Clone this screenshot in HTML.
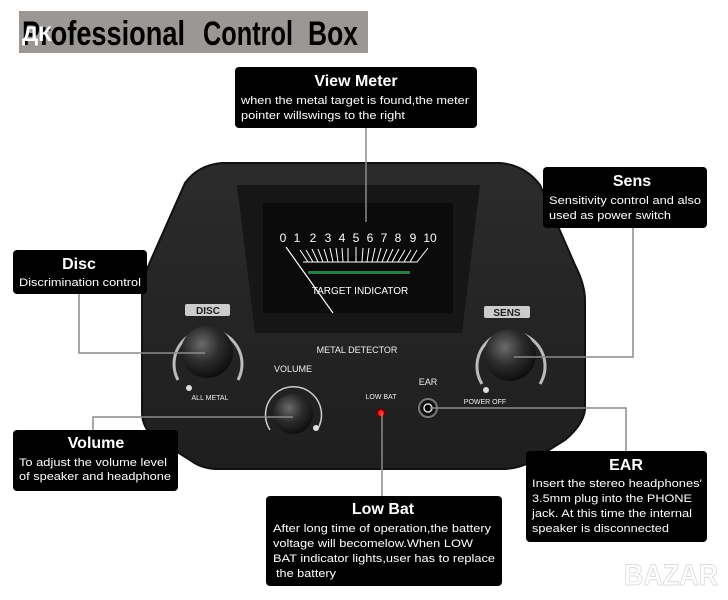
<!DOCTYPE html>
<html><head><meta charset="utf-8"><style>
html,body{margin:0;padding:0;background:#fff;width:728px;height:600px;overflow:hidden}
svg{display:block}
text{font-family:"Liberation Sans",sans-serif}
</style></head><body>
<svg width="728" height="600" viewBox="0 0 728 600" xmlns="http://www.w3.org/2000/svg">
<defs>
<radialGradient id="kn" cx="0.4" cy="0.35" r="0.7"><stop offset="0" stop-color="#6a6a6a"/><stop offset="0.5" stop-color="#2c2c2c"/><stop offset="1" stop-color="#0a0a0a"/></radialGradient>
<linearGradient id="body" x1="0" y1="0" x2="0" y2="1"><stop offset="0" stop-color="#2b2b2b"/><stop offset="1" stop-color="#1e1e1e"/></linearGradient>
</defs>
<!-- title -->
<rect x="19" y="11" width="349" height="42" fill="#9a9795"/>
<g font-size="34" font-weight="bold" fill="#000">
<text x="22" y="45" textLength="163" lengthAdjust="spacingAndGlyphs">Professional</text>
<text x="203" y="45" textLength="90" lengthAdjust="spacingAndGlyphs">Control</text>
<text x="308" y="45" textLength="50" lengthAdjust="spacingAndGlyphs">Box</text>
</g>
<text x="22" y="41" font-size="21" font-weight="bold" fill="#fff" textLength="30" lengthAdjust="spacingAndGlyphs">ДК</text>

<!-- device body -->
<path d="M222,163 L500,163 Q525,165 540,185 L575,265 Q585,285 585,300 L585,410 Q583,425 565,440 L530,462 Q520,468 505,469 L215,469 Q200,468 190,460 L155,438 Q142,428 142,412 L142,295 Q142,280 150,262 L185,183 Q198,165 222,163 Z" fill="url(#body)" stroke="#111" stroke-width="2"/>
<!-- recess -->
<path d="M237,185 L480,185 L462,333 L255,333 Z" fill="#161616"/>
<rect x="263" y="203" width="190" height="110" fill="#0b0b0b"/>
<!-- scale -->
<g fill="#fff" font-size="12">
<text x="283" y="242" text-anchor="middle">0</text><text x="297" y="242" text-anchor="middle">1</text>
<text x="313" y="242" text-anchor="middle">2</text><text x="328" y="242" text-anchor="middle">3</text>
<text x="342" y="242" text-anchor="middle">4</text><text x="356" y="242" text-anchor="middle">5</text>
<text x="370" y="242" text-anchor="middle">6</text><text x="384" y="242" text-anchor="middle">7</text>
<text x="398" y="242" text-anchor="middle">8</text><text x="413" y="242" text-anchor="middle">9</text>
<text x="430" y="242" text-anchor="middle">10</text>
</g>
<g stroke="#fff" stroke-width="1">
<path d="M303,262 L417,262 L428,248"/>
<line x1="300" y1="250" x2="308" y2="262"/><line x1="306" y1="250" x2="313" y2="262"/><line x1="312" y1="249" x2="318" y2="262"/><line x1="318" y1="249" x2="323" y2="262"/><line x1="324" y1="249" x2="328" y2="262"/><line x1="330" y1="248" x2="333" y2="262"/><line x1="336" y1="248" x2="338" y2="262"/><line x1="342" y1="248" x2="343" y2="262"/><line x1="348" y1="248" x2="348" y2="262"/><line x1="356" y1="247" x2="356" y2="262"/><line x1="363" y1="248" x2="362" y2="262"/><line x1="369" y1="248" x2="367" y2="262"/><line x1="375" y1="248" x2="372" y2="262"/><line x1="381" y1="248" x2="377" y2="262"/><line x1="387" y1="249" x2="382" y2="262"/><line x1="393" y1="249" x2="387" y2="262"/><line x1="399" y1="249" x2="392" y2="262"/><line x1="405" y1="250" x2="398" y2="262"/><line x1="411" y1="250" x2="404" y2="262"/><line x1="417" y1="250" x2="410" y2="262"/>
</g>
<rect x="308" y="271" width="102" height="3" fill="#2a7a4a"/>
<text x="360" y="294" font-size="10" fill="#fff" text-anchor="middle">TARGET INDICATOR</text>
<line x1="286" y1="247" x2="333" y2="313" stroke="#fff" stroke-width="1.2"/>
<text x="357" y="353" font-size="9" fill="#eee" text-anchor="middle">METAL DETECTOR</text>
<!-- DISC knob -->
<path d="M178,380 A34,34 0 1,1 238,380" fill="none" stroke="#bbb" stroke-width="3"/>
<rect x="185" y="304" width="45" height="12" fill="#ccc" rx="2"/>
<text x="208" y="314" font-size="10" font-weight="bold" fill="#222" text-anchor="middle">DISC</text>
<circle cx="207" cy="352" r="26" fill="url(#kn)"/>
<circle cx="189" cy="388" r="3" fill="#ddd"/>
<text x="210" y="400" font-size="7" fill="#eee" text-anchor="middle">ALL METAL</text>
<!-- SENS knob -->
<path d="M482,384 A34,34 0 1,1 540,384" fill="none" stroke="#bbb" stroke-width="3"/>
<rect x="484" y="306" width="46" height="12" fill="#ccc" rx="2"/>
<text x="507" y="316" font-size="10" font-weight="bold" fill="#222" text-anchor="middle">SENS</text>
<circle cx="510" cy="355" r="26" fill="url(#kn)"/>
<circle cx="486" cy="390" r="3" fill="#ddd"/>
<text x="485" y="404" font-size="7" fill="#eee" text-anchor="middle">POWER OFF</text>
<!-- VOLUME -->
<text x="293" y="372" font-size="9" fill="#eee" text-anchor="middle">VOLUME</text>
<path d="M270,430 A28,28 0 1,1 317,430" fill="none" stroke="#ccc" stroke-width="1.5"/>
<circle cx="316" cy="428" r="3" fill="#ddd"/>
<circle cx="293" cy="414" r="20" fill="url(#kn)"/>
<!-- LOW BAT / EAR -->
<text x="381" y="399" font-size="7" fill="#eee" text-anchor="middle">LOW BAT</text>
<circle cx="381" cy="413" r="5" fill="#600"/><circle cx="381" cy="413" r="3" fill="#f22"/>
<text x="428" y="385" font-size="9" fill="#eee" text-anchor="middle">EAR</text>
<circle cx="428" cy="408" r="9" fill="#111" stroke="#777" stroke-width="2"/><circle cx="428" cy="408" r="4" fill="#000" stroke="#ddd" stroke-width="1.5"/>

<!-- connectors -->
<g stroke="#8a8a8a" stroke-width="1.5" fill="none">
<polyline points="366,128 366,222"/>
<polyline points="633,228 633,357 514,357"/>
<polyline points="79,294 79,353 205,353"/>
<polyline points="93,430 93,417 293,417"/>
<polyline points="626,451 626,408 430,408"/>
<polyline points="382,496 382,413"/>
</g>

<!-- boxes -->
<g fill="#000">
<rect x="235" y="67" width="242" height="61" rx="4"/>
<rect x="543" y="167" width="164" height="61" rx="4"/>
<rect x="13" y="250" width="134" height="44" rx="4"/>
<rect x="13" y="430" width="165" height="61" rx="4"/>
<rect x="526" y="451" width="181" height="91" rx="4"/>
<rect x="266" y="496" width="236" height="90" rx="4"/>
</g>
<g fill="#fff">
<text x="356" y="86" font-size="16" font-weight="bold" text-anchor="middle">View Meter</text>
<text x="241" y="104" font-size="11" textLength="228" lengthAdjust="spacingAndGlyphs">when the metal target is found,the meter</text>
<text x="241" y="119" font-size="11" textLength="164" lengthAdjust="spacingAndGlyphs">pointer willswings to the right</text>

<text x="632" y="186" font-size="16" font-weight="bold" text-anchor="middle">Sens</text>
<text x="549" y="204" font-size="11" textLength="152" lengthAdjust="spacingAndGlyphs">Sensitivity control and also</text>
<text x="549" y="219" font-size="11" textLength="122" lengthAdjust="spacingAndGlyphs">used as power switch</text>

<text x="79" y="269" font-size="16" font-weight="bold" text-anchor="middle">Disc</text>
<text x="19" y="286" font-size="11" textLength="122" lengthAdjust="spacingAndGlyphs">Discrimination control</text>

<text x="96" y="448" font-size="16" font-weight="bold" text-anchor="middle">Volume</text>
<text x="19" y="466" font-size="11" textLength="148" lengthAdjust="spacingAndGlyphs">To adjust the volume level</text>
<text x="19" y="480" font-size="11" textLength="152" lengthAdjust="spacingAndGlyphs">of speaker and headphone</text>

<text x="626" y="470" font-size="16" font-weight="bold" text-anchor="middle">EAR</text>
<text x="532" y="487" font-size="11" textLength="170" lengthAdjust="spacingAndGlyphs">Insert the stereo headphones'</text>
<text x="532" y="502" font-size="11" textLength="160" lengthAdjust="spacingAndGlyphs">3.5mm plug into the PHONE</text>
<text x="532" y="517" font-size="11" textLength="160" lengthAdjust="spacingAndGlyphs">jack. At this time the internal</text>
<text x="532" y="532" font-size="11" textLength="137" lengthAdjust="spacingAndGlyphs">speaker is disconnected</text>

<text x="383" y="514" font-size="16" font-weight="bold" text-anchor="middle">Low Bat</text>
<text x="273" y="532" font-size="11" textLength="218" lengthAdjust="spacingAndGlyphs">After long time of operation,the battery</text>
<text x="273" y="547" font-size="11" textLength="200" lengthAdjust="spacingAndGlyphs">voltage will becomelow.When LOW</text>
<text x="273" y="562" font-size="11" textLength="222" lengthAdjust="spacingAndGlyphs">BAT indicator lights,user has to replace</text>
<text x="276" y="577" font-size="11" textLength="60" lengthAdjust="spacingAndGlyphs">the battery</text>
</g>
<text x="624" y="585" font-size="30" font-weight="bold" fill="#fff" stroke="#ddd" stroke-width="1" textLength="94" lengthAdjust="spacingAndGlyphs">BAZAR</text>
</svg>
</body></html>
